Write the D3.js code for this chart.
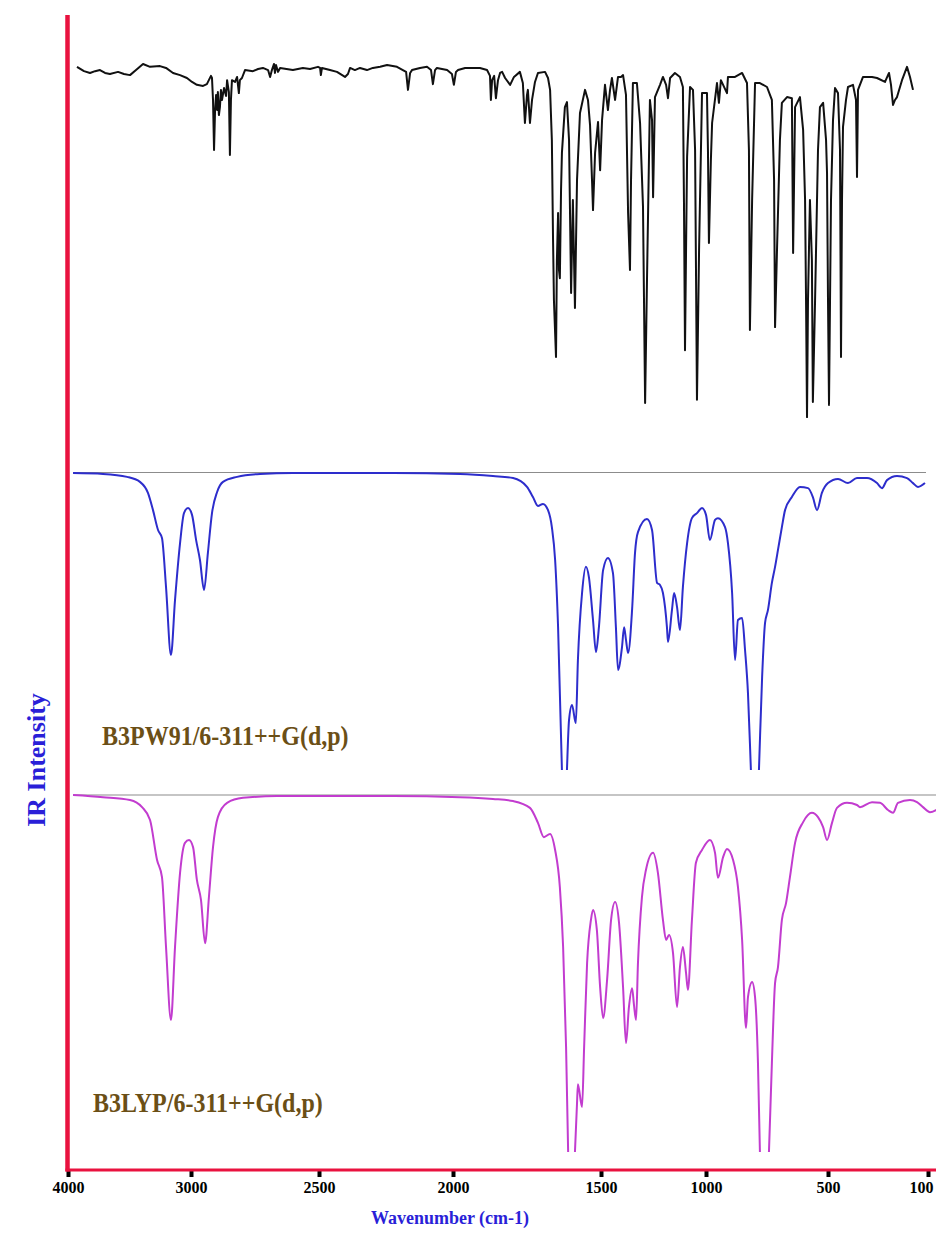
<!DOCTYPE html>
<html>
<head>
<meta charset="utf-8">
<script src="https://cdn.jsdelivr.net/npm/d3@7"></script>
<style>
  body { margin: 0; background: #fff; }
  svg { display: block; }
  text { font-family: "Liberation Serif", "Times New Roman", serif; font-weight: bold; }
</style>
</head>
<body>
<div id="container"></div>
<script>
// Wavenumber ticks (the printed axis is not linear between ticks)
const tickValues = [4000, 3000, 2500, 2000, 1500, 1000, 500, 100];

// Experimental spectrum: [wavenumber, transmittance %]
const expSpectrum = [
  [3927, 98.1], [3870, 96.9], [3821, 96.4], [3780, 96.9], [3740, 97.2], [3699, 96.4], [3659, 96.1],
  [3593, 96.7], [3545, 96.1], [3496, 95.8], [3447, 97.2], [3390, 98.9], [3333, 98.1], [3252, 98.3],
  [3203, 97.8], [3146, 96.4], [3089, 95.8], [3033, 95.0], [2996, 93.9], [2977, 93.1], [2953, 92.8],
  [2938, 93.3], [2922, 95.6], [2918, 95.0], [2914, 88.9], [2910, 75.0], [2906, 86.1], [2902, 90.3],
  [2898, 86.1], [2895, 91.1], [2891, 84.7], [2887, 86.9], [2883, 91.7], [2879, 88.9], [2871, 92.2],
  [2863, 90.0], [2859, 94.4], [2852, 91.1], [2848, 73.6], [2844, 88.9], [2840, 94.4], [2828, 93.9],
  [2820, 95.3], [2813, 90.8], [2809, 94.4], [2801, 95.0], [2789, 97.2], [2758, 96.9], [2738, 97.5],
  [2719, 97.8], [2699, 97.2], [2691, 95.3], [2684, 97.2], [2676, 98.9], [2672, 96.4], [2668, 98.6],
  [2660, 96.7], [2652, 97.8], [2602, 97.2], [2563, 97.8], [2535, 97.5], [2504, 98.1], [2496, 97.8],
  [2493, 95.8], [2489, 97.8], [2459, 97.2], [2433, 96.7], [2403, 95.3], [2392, 96.1], [2384, 97.8],
  [2366, 97.2], [2347, 97.8], [2321, 97.2], [2299, 97.8], [2272, 98.1], [2246, 98.6], [2209, 98.1],
  [2187, 97.2], [2175, 96.7], [2168, 91.7], [2160, 96.4], [2153, 97.2], [2123, 97.8], [2097, 98.1],
  [2082, 97.2], [2075, 93.3], [2067, 97.2], [2060, 97.8], [2022, 97.2], [2004, 96.1], [1997, 93.1],
  [1990, 96.7], [1983, 97.2], [1959, 97.8], [1932, 97.8], [1909, 97.8], [1885, 97.2], [1875, 95.6],
  [1872, 88.9], [1868, 94.4], [1861, 95.6], [1855, 89.4], [1848, 94.4], [1841, 96.4], [1834, 96.7],
  [1824, 95.0], [1807, 93.1], [1794, 95.3], [1774, 96.7], [1764, 93.6], [1757, 82.5], [1750, 90.3],
  [1747, 91.7], [1740, 82.5], [1733, 88.9], [1723, 93.9], [1713, 96.4], [1689, 96.7], [1679, 95.0],
  [1672, 91.7], [1666, 77.8], [1662, 50.0], [1659, 33.3], [1652, 17.5], [1649, 44.4], [1645, 57.5],
  [1642, 41.7], [1639, 39.4], [1635, 63.9], [1632, 74.2], [1622, 86.9], [1615, 88.3], [1608, 77.8],
  [1601, 35.3], [1595, 61.1], [1588, 31.1], [1581, 66.7], [1571, 85.3], [1554, 91.7], [1544, 88.9],
  [1537, 81.9], [1530, 65.8], [1527, 58.3], [1520, 74.2], [1510, 82.8], [1503, 69.4], [1495, 83.3],
  [1481, 93.1], [1467, 86.1], [1457, 91.7], [1448, 95.0], [1433, 88.9], [1419, 95.3], [1405, 95.3],
  [1395, 95.8], [1381, 90.3], [1371, 57.5], [1362, 41.7], [1357, 66.7], [1348, 93.6], [1329, 93.6],
  [1314, 82.5], [1300, 59.2], [1290, 4.7], [1281, 38.9], [1267, 88.9], [1257, 83.3], [1252, 61.9],
  [1243, 89.7], [1219, 93.1], [1205, 95.3], [1190, 93.1], [1181, 89.4], [1171, 95.0], [1148, 96.4],
  [1124, 95.3], [1110, 92.5], [1105, 61.1], [1100, 19.4], [1095, 47.2], [1090, 73.1], [1076, 92.5],
  [1062, 91.7], [1052, 75.0], [1043, 5.6], [1033, 47.2], [1019, 90.8], [996, 90.8], [992, 75.0],
  [988, 49.2], [980, 72.2], [975, 82.5], [955, 93.6], [947, 88.1], [939, 94.4], [914, 90.8],
  [910, 95.3], [881, 95.3], [852, 96.4], [832, 93.6], [824, 75.0], [820, 25.0], [811, 61.1],
  [799, 93.6], [779, 93.6], [750, 92.5], [730, 88.9], [721, 66.7], [717, 25.8], [709, 47.2],
  [697, 77.8], [689, 88.1], [668, 89.7], [648, 89.4], [643, 46.4], [635, 86.9], [615, 89.7],
  [602, 80.6], [594, 61.1], [590, 33.3], [586, 0.8], [582, 33.3], [578, 47.2], [574, 61.1],
  [566, 44.4], [562, 5.0], [553, 33.3], [541, 75.0], [533, 86.9], [520, 88.1], [508, 77.8],
  [504, 68.6], [500, 33.3], [496, 4.2], [488, 61.1], [480, 83.3], [472, 92.2], [460, 90.8],
  [452, 75.0], [448, 17.5], [444, 61.1], [440, 81.4], [428, 88.9], [420, 92.5], [400, 93.1],
  [388, 88.9], [384, 67.5], [380, 91.7], [360, 95.3], [324, 95.3], [304, 95.0], [272, 93.9],
  [256, 96.4], [248, 93.1], [240, 87.5], [232, 88.9], [224, 89.7], [204, 94.4], [184, 98.1],
  [172, 95.3], [160, 91.7]
];

// B3PW91/6-311++G(d,p) computed spectrum: [wavenumber, transmittance %]
const b3pw91Spectrum = [
  [3959, 100.0], [3715, 99.7], [3520, 98.7], [3415, 97.0], [3350, 93.3], [3309, 87.5], [3268, 80.8],
  [3236, 78.1], [3203, 61.6], [3163, 38.7], [3130, 57.2], [3089, 76.4], [3057, 86.5], [3024, 88.2],
  [2996, 85.9], [2980, 77.4], [2965, 70.7], [2949, 60.6], [2934, 73.1], [2918, 86.5], [2898, 93.6],
  [2875, 97.0], [2820, 98.7], [2730, 99.7], [2602, 100.0], [2224, 100.0], [1976, 99.7], [1865, 99.0],
  [1797, 98.3], [1750, 95.3], [1730, 91.9], [1713, 88.9], [1696, 89.6], [1679, 87.5], [1666, 81.8],
  [1655, 70.7], [1645, 48.1], [1632, 0.0], [1625, -33.7], [1615, 0.0], [1608, 16.8], [1598, 21.9],
  [1585, 15.8], [1578, 37.0], [1564, 59.6], [1551, 68.4], [1541, 65.0], [1527, 50.5], [1517, 39.7],
  [1507, 48.1], [1490, 67.3], [1467, 71.4], [1443, 66.3], [1429, 48.1], [1419, 33.7], [1400, 41.4],
  [1390, 48.1], [1381, 43.8], [1371, 39.4], [1352, 53.9], [1338, 73.1], [1324, 80.1], [1281, 84.5],
  [1257, 80.8], [1233, 63.0], [1219, 62.3], [1205, 59.6], [1186, 48.1], [1181, 43.1], [1162, 53.9],
  [1152, 59.6], [1138, 54.9], [1124, 47.1], [1110, 61.6], [1090, 76.4], [1067, 84.8], [1043, 86.5],
  [1019, 88.2], [1000, 85.9], [984, 77.4], [963, 84.2], [951, 84.8], [922, 81.8], [910, 76.4],
  [893, 59.6], [881, 37.0], [869, 50.5], [852, 51.2], [840, 40.4], [828, 25.9], [816, 0.0],
  [799, -37.0], [783, 0.0], [770, 31.3], [758, 49.5], [746, 53.9], [730, 63.0], [717, 68.4],
  [705, 74.1], [689, 81.8], [676, 87.5], [648, 91.9], [615, 95.3], [582, 94.9], [562, 91.9],
  [545, 87.5], [525, 93.3], [500, 96.6], [460, 98.0], [420, 96.6], [384, 98.3], [344, 98.3],
  [304, 96.6], [284, 94.9], [264, 97.6], [224, 99.0], [184, 98.3], [160, 96.6], [140, 95.3],
  [112, 96.6]
];

// B3LYP/6-311++G(d,p) computed spectrum: [wavenumber, transmittance %]
const b3lypSpectrum = [
  [3959, 100.0], [3715, 99.4], [3496, 98.6], [3398, 96.6], [3333, 93.0], [3276, 81.8], [3236, 77.0],
  [3203, 57.4], [3163, 37.0], [3130, 57.4], [3089, 78.2], [3049, 86.6], [3016, 87.4], [2992, 85.4],
  [2977, 76.2], [2961, 70.6], [2945, 58.5], [2930, 71.4], [2914, 85.4], [2895, 93.8], [2859, 97.8],
  [2797, 99.2], [2664, 99.7], [2224, 99.7], [1976, 99.4], [1865, 98.9], [1797, 98.3], [1740, 96.4],
  [1713, 92.2], [1693, 88.2], [1672, 89.1], [1655, 84.6], [1639, 74.2], [1628, 57.4], [1618, 29.4],
  [1611, 0.0], [1601, -30.3], [1588, 0.0], [1581, 13.7], [1578, 19.0], [1564, 12.6], [1557, 29.4],
  [1547, 52.9], [1534, 65.0], [1527, 67.8], [1514, 62.2], [1503, 46.2], [1490, 37.5], [1471, 48.2],
  [1452, 65.0], [1433, 70.0], [1414, 64.1], [1395, 46.2], [1381, 30.5], [1367, 40.6], [1352, 45.9],
  [1343, 41.2], [1333, 37.0], [1324, 52.9], [1305, 71.4], [1286, 79.0], [1252, 83.8], [1229, 78.2],
  [1205, 65.0], [1190, 59.4], [1176, 60.8], [1157, 55.7], [1138, 40.6], [1124, 51.8], [1110, 57.4],
  [1095, 50.1], [1086, 45.4], [1067, 65.0], [1048, 81.0], [1019, 84.6], [984, 87.4], [963, 83.8],
  [951, 76.8], [930, 82.6], [914, 84.9], [889, 81.8], [869, 74.2], [852, 59.4], [836, 34.7],
  [828, 43.4], [811, 47.6], [799, 43.4], [787, 24.9], [779, 0.0], [762, -30.3], [742, 0.0],
  [730, 24.9], [717, 47.3], [705, 51.8], [689, 65.0], [672, 69.7], [656, 77.0], [635, 86.6],
  [602, 92.4], [566, 95.0], [541, 93.8], [520, 91.0], [504, 87.4], [484, 92.2], [464, 96.4],
  [424, 97.8], [384, 97.2], [372, 96.6], [324, 98.0], [292, 97.8], [260, 95.8], [240, 95.0],
  [220, 97.8], [172, 98.6], [144, 98.0], [120, 96.6], [92, 95.2], [60, 96.1]
];

const panelLabels = ['B3PW91/6-311++G(d,p)', 'B3LYP/6-311++G(d,p)'];
const xTitle = 'Wavenumber (cm-1)';
const yTitle = 'IR Intensity';

const WIDTH = 936;
const HEIGHT = 1233;
const AXIS_Y = 1170;
const AXIS_X = 67.5;
const RED = '#e9123f';

const svg = d3.select('#container')
  .append('svg')
    .attr('width', WIDTH)
    .attr('height', HEIGHT)
    .style('background', '#fff');

// piecewise x scale, one knot per printed tick
const x = d3.scaleLinear()
  .domain(tickValues)
  .range([68, 191, 319, 453, 601, 706, 828, 928]);

// one y scale per stacked panel (transmittance 0..100)
const yExp = d3.scaleLinear().domain([0, 100]).range([420, 60]);
const yPw = d3.scaleLinear().domain([0, 100]).range([770, 473]);
const yLyp = d3.scaleLinear().domain([0, 100]).range([1152, 795]);

const defs = svg.append('defs');
defs.append('clipPath').attr('id', 'clipPw')
  .append('rect').attr('x', 60).attr('y', 440).attr('width', 876).attr('height', 330);
defs.append('clipPath').attr('id', 'clipLyp')
  .append('rect').attr('x', 60).attr('y', 780).attr('width', 876).attr('height', 372);

// panel separator lines
svg.append('line')
  .attr('x1', 73).attr('x2', 926).attr('y1', 472.5).attr('y2', 472.5)
  .attr('stroke', '#8c8c8c').attr('stroke-width', 1.2);
svg.append('line')
  .attr('x1', 73).attr('x2', 936).attr('y1', 795).attr('y2', 795)
  .attr('stroke', '#8c8c8c').attr('stroke-width', 1.2);

const lineExp = d3.line()
  .x(d => x(d[0]))
  .y(d => yExp(d[1]));

svg.append('path')
  .datum(expSpectrum)
  .attr('d', lineExp)
  .attr('fill', 'none')
  .attr('stroke', '#111')
  .attr('stroke-width', 2)
  .attr('stroke-linejoin', 'round');

const linePw = d3.line()
  .x(d => x(d[0]))
  .y(d => yPw(d[1]))
  .curve(d3.curveMonotoneX);

svg.append('path')
  .datum(b3pw91Spectrum)
  .attr('clip-path', 'url(#clipPw)')
  .attr('d', linePw)
  .attr('fill', 'none')
  .attr('stroke', '#2d2dcc')
  .attr('stroke-width', 2);

const lineLyp = d3.line()
  .x(d => x(d[0]))
  .y(d => yLyp(d[1]))
  .curve(d3.curveMonotoneX);

svg.append('path')
  .datum(b3lypSpectrum)
  .attr('clip-path', 'url(#clipLyp)')
  .attr('d', lineLyp)
  .attr('fill', 'none')
  .attr('stroke', '#c23ccf')
  .attr('stroke-width', 2);

// method labels
svg.selectAll('.method')
  .data(panelLabels)
  .enter()
  .append('text')
    .attr('class', 'method')
    .attr('transform', (d, i) => i === 0 ? 'translate(102,745) scale(1,1.12)' : 'translate(93,1112) scale(1,1.12)')
    .attr('fill', '#6b4f16')
    .style('font-size', '24px')
    .text(d => d);

// x axis
const xAxis = d3.axisBottom(x)
  .tickValues(tickValues)
  .tickSize(7)
  .tickPadding(5)
  .tickFormat(d3.format('d'));

const gx = svg.append('g')
  .attr('transform', `translate(0, ${AXIS_Y})`)
  .call(xAxis);

gx.select('.domain').remove();
gx.selectAll('.tick line')
  .attr('stroke', '#000')
  .attr('stroke-width', 4);
gx.selectAll('.tick text')
  .attr('fill', '#000')
  .style('font-size', '16px')
  .style('font-family', '"Liberation Serif", "Times New Roman", serif')
  .style('font-weight', 'bold')
  .attr('dx', d => d === 100 ? -7 : 0);

// red axis lines
svg.append('line')
  .attr('x1', AXIS_X - 2).attr('x2', WIDTH).attr('y1', AXIS_Y).attr('y2', AXIS_Y)
  .attr('stroke', RED).attr('stroke-width', 3);
svg.append('line')
  .attr('x1', AXIS_X).attr('x2', AXIS_X).attr('y1', 15).attr('y2', AXIS_Y + 1.5)
  .attr('stroke', RED).attr('stroke-width', 4.5);

// titles
svg.append('text')
  .attr('x', 450)
  .attr('y', 1224)
  .attr('text-anchor', 'middle')
  .attr('fill', '#2a1fd8')
  .style('font-size', '18px')
  .text(xTitle);

svg.append('text')
  .attr('transform', 'translate(45, 760) rotate(-90)')
  .attr('text-anchor', 'middle')
  .attr('fill', '#2a1fd8')
  .style('font-size', '26px')
  .text(yTitle);
</script>
</body>
</html>
